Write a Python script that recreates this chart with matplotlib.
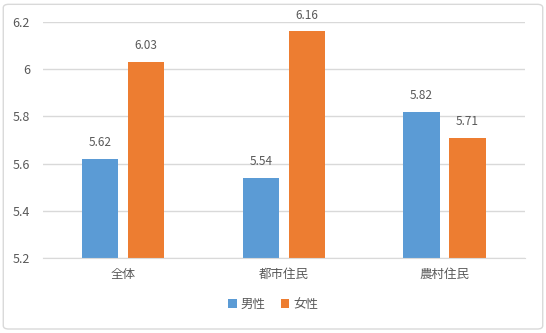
import matplotlib
matplotlib.use('Agg')
from matplotlib import pyplot as plt
from matplotlib.patches import FancyBboxPatch
import numpy as np

plt.rcParams['font.family'] = ['Noto Sans CJK JP', 'DejaVu Sans']

categories = ['全体', '都市住民', '農村住民']
series_names = ['男性', '女性']
male = [5.62, 5.54, 5.82]
female = [6.03, 6.16, 5.71]
y_ticks = [5.2, 5.4, 5.6, 5.8, 6.0, 6.2]
y_tick_labels = ['5.2', '5.4', '5.6', '5.8', '6', '6.2']

blue = '#5B9BD5'
orange = '#ED7D31'
text_col = '#595959'
grid_col = '#D9D9D9'

fig = plt.figure(figsize=(5.46, 3.33), dpi=100)
ax = fig.add_axes([0.078, 0.2252, 0.8835, 0.7088])

x = np.arange(len(categories))
w = 0.225
off = 0.143
b1 = ax.bar(x - off, male, w, bottom=0, color=blue, label=series_names[0], zorder=3)
b2 = ax.bar(x + off, female, w, bottom=0, color=orange, label=series_names[1], zorder=3)

for bars, vals in ((b1, male), (b2, female)):
    for rect, v in zip(bars, vals):
        ax.annotate(f'{v:.2f}', (rect.get_x() + rect.get_width() / 2, v),
                    xytext=(0, 7), textcoords='offset points',
                    ha='center', va='bottom', fontsize=8.5, color=text_col)

ax.set_ylim(5.2, 6.2)
ax.set_xlim(-0.5, len(categories) - 0.5)
ax.set_yticks(y_ticks)
ax.set_yticklabels(y_tick_labels)
ax.set_xticks(x)
ax.set_xticklabels(categories)
ax.tick_params(axis='both', length=0, colors=text_col, labelsize=9)
ax.tick_params(axis='y', pad=9)
ax.tick_params(axis='x', pad=7)
ax.yaxis.grid(True, color=grid_col, linewidth=1, zorder=0)
for s in ['top', 'right', 'left']:
    ax.spines[s].set_visible(False)
ax.spines['bottom'].set_color(grid_col)
ax.spines['bottom'].set_zorder(4)

leg = fig.legend(loc='center', bbox_to_anchor=(0.5, 0.085), ncol=2, frameon=False,
                 fontsize=9, handlelength=0.7, handleheight=0.7, handletextpad=0.3,
                 columnspacing=1.2)
for t in leg.get_texts():
    t.set_color(text_col)

border = FancyBboxPatch((0.006, 0.012), 0.988, 0.975, boxstyle='round,pad=0,rounding_size=0.01',
                        transform=fig.transFigure, fill=False, edgecolor='#D9D9D9', linewidth=1)
fig.patches.append(border)

fig.savefig('out.png', dpi=100)
